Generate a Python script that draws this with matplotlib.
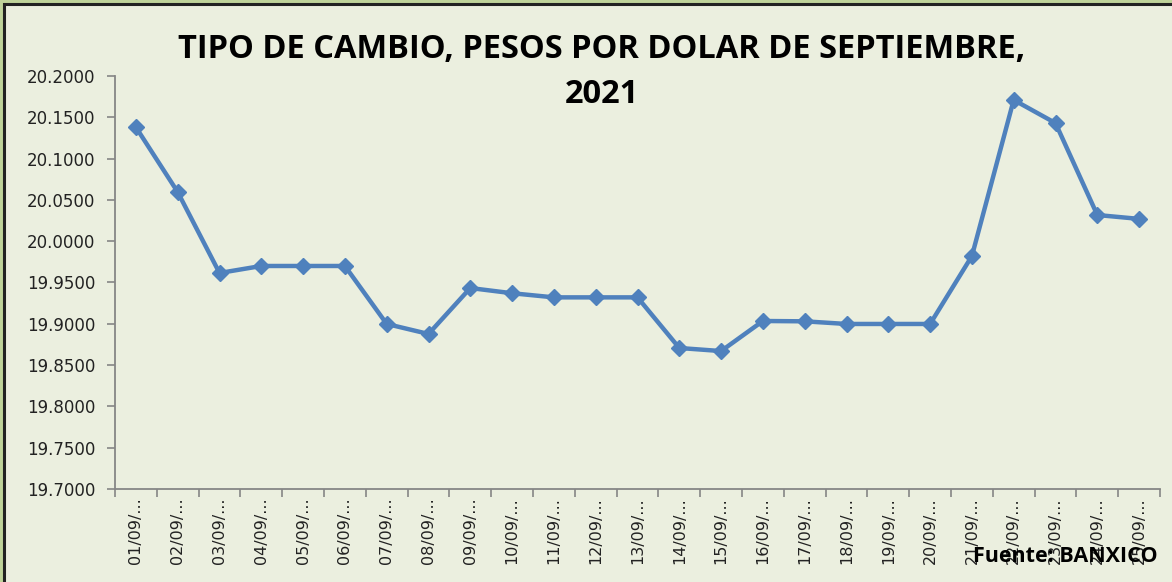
import numpy as np
import matplotlib.pyplot as plt
from matplotlib.patches import Rectangle
from matplotlib.ticker import FormatStrFormatter, FixedLocator

# tipo de cambio FIX, septiembre 2021
days = ['%02d/09/...' % d for d in range(1, 26)]
rates = [20.1380, 20.0595, 19.9615, 19.9700, 19.9700, 19.9700, 19.8998,
         19.8877, 19.9433, 19.9370, 19.9320, 19.9320, 19.9320, 19.8707,
         19.8670, 19.9034, 19.9030, 19.8998, 19.8998, 19.8998, 19.9820,
         20.1710, 20.1430, 20.0317, 20.0270]
y_ticks = [19.70, 19.75, 19.80, 19.85, 19.90, 19.95, 20.00, 20.05, 20.10, 20.15, 20.20]

bg = '#EBEFDF'
fig = plt.figure(figsize=(11.72, 5.82), dpi=100)
fig.patch.set_facecolor('#BFD39A')
# chart area with dark frame
fig.patches.append(Rectangle((4/1172, -0.1), 1.2, 1 - 4/582 + 0.1, transform=fig.transFigure,
                             facecolor=bg, edgecolor='#222222', linewidth=2.2, zorder=-5))

ax = fig.add_axes([115/1172, 1 - 489/582, 1045/1172, 413/582])
ax.set_facecolor(bg)

x = np.arange(1, len(rates) + 1)
ax.plot(x, rates, color='#4F81BD', linewidth=3.2, marker='D', markersize=8.5,
        markeredgecolor='#4F81BD', markerfacecolor='#4F81BD', clip_on=False)

ax.set_xlim(0.5, len(rates) + 0.5)
ax.set_ylim(19.70, 20.20)
ax.set_yticks(y_ticks)
ax.yaxis.set_major_formatter(FormatStrFormatter('%.4f'))
ax.set_xticks(x)
ax.set_xticklabels(days, rotation=90, fontsize=11.5, color='#222222')
ax.tick_params(axis='x', which='major', length=0, pad=6)
ax.xaxis.set_minor_locator(FixedLocator(np.arange(0.5, len(rates) + 1, 1)))
ax.tick_params(axis='x', which='minor', length=6, color='#868686', width=1.2)
ax.tick_params(axis='y', labelsize=12, length=6, color='#868686', width=1.2,
               labelcolor='#222222', pad=8)

for s in ['top', 'right']:
    ax.spines[s].set_visible(False)
for s in ['left', 'bottom']:
    ax.spines[s].set_color('#868686')
    ax.spines[s].set_linewidth(1.3)

fig.text(602/1172, 1 - 72/582, 'TIPO DE CAMBIO, PESOS POR DOLAR DE SEPTIEMBRE,\n2021',
         ha='center', va='center', fontsize=23.5, fontweight='bold', family='Open Sans',
         linespacing=1.45, color='black')
fig.text(1158/1172, 1 - 557/582, 'Fuente: BANXICO', ha='right', va='center',
         fontsize=15.5, fontweight='bold', family='Open Sans', color='black', zorder=10)

fig.savefig('out.png', dpi=100, facecolor=fig.get_facecolor())
